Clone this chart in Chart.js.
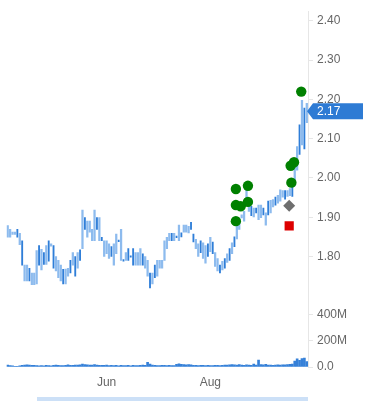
<!DOCTYPE html>
<html>
<head>
<meta charset="utf-8">
<script src="https://cdn.jsdelivr.net/npm/chart.js@4.4.0/dist/chart.umd.min.js"></script>
<style>
  body { margin: 0; background: #fff; }
</style>
</head>
<body>
<canvas id="stockChart" width="370" height="401"></canvas>
<script>
  // daily bars, high/low per session
  const lows = [1.849,1.849,1.856,1.856,1.849,1.830,1.778,1.738,1.738,1.738,
    1.728,1.728,1.730,1.778,1.766,1.780,1.780,1.788,1.826,1.770,
    1.763,1.746,1.738,1.730,1.730,1.750,1.758,1.778,1.750,1.770,
    1.790,1.820,1.869,1.849,1.862,1.840,1.840,1.869,1.840,1.840,
    1.800,1.807,1.795,1.800,1.778,1.807,1.838,1.790,1.788,1.790,
    1.790,1.798,1.778,1.778,1.778,1.778,1.778,1.770,1.750,1.720,
    1.730,1.746,1.750,1.770,1.770,1.790,1.820,1.840,1.840,1.840,
    1.848,1.840,1.850,1.862,1.862,1.860,1.869,1.837,1.820,1.800,
    1.810,1.795,1.783,1.800,1.812,1.807,1.775,1.763,1.758,1.766,
    1.770,1.785,1.790,1.807,1.825,1.845,1.869,1.898,1.890,1.930,
    1.915,1.904,1.901,1.911,1.894,1.899,1.906,1.880,1.906,1.911,
    1.926,1.931,1.936,1.941,1.951,1.946,1.953,1.955,1.953,1.980,
    2.020,2.060,2.084,2.074,2.141];
  const highs = [1.879,1.869,1.862,1.862,1.869,1.859,1.840,1.778,1.778,1.770,
    1.758,1.758,1.815,1.828,1.818,1.810,1.828,1.840,1.832,1.828,
    1.800,1.790,1.778,1.767,1.768,1.770,1.790,1.810,1.800,1.810,
    1.817,1.918,1.899,1.890,1.890,1.869,1.918,1.899,1.899,1.849,
    1.840,1.840,1.832,1.825,1.832,1.857,1.842,1.869,1.792,1.810,
    1.820,1.802,1.820,1.810,1.810,1.820,1.807,1.800,1.790,1.758,
    1.758,1.778,1.790,1.790,1.790,1.840,1.849,1.859,1.859,1.859,
    1.852,1.880,1.860,1.880,1.880,1.877,1.887,1.857,1.844,1.832,
    1.840,1.835,1.828,1.832,1.849,1.837,1.810,1.795,1.778,1.788,
    1.795,1.807,1.820,1.835,1.850,1.878,1.895,1.906,1.915,1.970,
    1.930,1.928,1.923,1.923,1.931,1.931,1.923,1.911,1.941,1.943,
    1.945,1.951,1.956,1.970,1.968,1.968,1.968,1.973,1.978,2.035,
    2.080,2.135,2.198,2.178,2.190];
  // 1 = darker bar
  const darkBars = [0,0,0,0,1,0,1,0,0,1, 0,0,0,1,0,1,0,1,0,1,
    0,0,0,1,0,0,1,0,1,0, 1,0,1,0,0,0,0,1,0,1,
    0,0,0,1,0,0,1,0,1,0, 1,1,1,0,0,0,1,0,0,1,
    0,1,0,0,0,0,0,0,1,0, 1,0,1,0,0,0,1,1,0,0,
    1,0,0,1,0,1,0,0,1,0, 1,0,1,0,1,0,0,0,0,0,
    0,1,0,1,0,0,1,0,1,0, 0,1,0,0,0,1,0,0,1,0,
    0,1,0,1,0];
  // volume in millions
  const volumes = [14,10,8,6,5,9,12,14,16,15, 13,12,10,9,11,8,12,10,9,13,
    14,12,11,10,12,16,13,12,15,14, 16,22,18,16,14,15,18,14,12,13,
    12,14,11,12,10,13,9,12,11,10, 12,9,13,11,10,12,14,12,36,22,
    14,12,11,10,13,12,11,12,10,11, 20,24,21,18,17,19,16,13,12,11,
    12,13,11,12,10,11,12,13,10,12, 14,15,17,18,16,15,19,14,12,16,
    14,12,22,15,52,18,16,20,14,15, 13,14,16,15,17,16,18,20,22,45,
    62,50,65,68,42];
  const lastClose = 2.17;

  // event flags (bar index, price)
  const greenEvents = [[94.6,1.972],[99.6,1.980],[94.6,1.931],[96.6,1.928],[99.6,1.939],
    [94.6,1.890],[117.6,1.988],[117.3,2.031],[118.7,2.040],[121.7,2.220]];
  const grayEvents = [[116.7,1.929]];
  const redEvents = [[116.7,1.878]];

  const monthLabels = ['Jun', 'Aug'];
  const monthIdx = [41, 84];
  const priceTicks = [1.8, 1.9, 2.0, 2.1, 2.2, 2.3, 2.4];
  const volumeTicks = [0, 200, 400];

  const lightData = [], darkData = [];
  highs.forEach((h, i) => {
    const pt = { x: i, y: [lows[i], h] };
    (darkBars[i] ? darkData : lightData).push(pt);
  });
  const volData = volumes.map((v, i) => ({ x: i, y: v }));
  const toPts = arr => arr.map(p => ({ x: p[0], y: p[1] }));

  const lastPriceLabel = {
    id: 'lastPriceLabel',
    afterDraw(chart) {
      const ctx = chart.ctx;
      const y = chart.scales.y.getPixelForValue(lastClose);
      const x0 = chart.chartArea.right - 1;
      ctx.save();
      ctx.fillStyle = '#2e7bd4';
      ctx.beginPath();
      ctx.moveTo(x0, y);
      ctx.lineTo(x0 + 6, y - 8);
      ctx.lineTo(363, y - 8);
      ctx.lineTo(363, y + 8);
      ctx.lineTo(x0 + 6, y + 8);
      ctx.closePath();
      ctx.fill();
      ctx.fillStyle = '#ffffff';
      ctx.font = '12px "Liberation Sans", Arial, sans-serif';
      ctx.textBaseline = 'middle';
      ctx.fillText(lastClose.toFixed(2), x0 + 10, y + 0.5);
      // navigator scrollbar strip
      ctx.fillStyle = '#cce0f7';
      ctx.fillRect(37, 397, chart.chartArea.right - 37, 4);
      ctx.restore();
    }
  };

  const labelFont = { family: '"Liberation Sans", Arial, sans-serif', size: 12 };

  new Chart(document.getElementById('stockChart'), {
    type: 'bar',
    data: {
      datasets: [
        { type: 'scatter', data: toPts(greenEvents), yAxisID: 'y', order: 0,
          pointStyle: 'circle', pointRadius: 5.2, backgroundColor: '#008000', borderWidth: 0 },
        { type: 'scatter', data: toPts(grayEvents), yAxisID: 'y', order: 0,
          pointStyle: 'rectRot', pointRadius: 6, backgroundColor: '#6e6e6e', borderWidth: 0 },
        { type: 'scatter', data: toPts(redEvents), yAxisID: 'y', order: 0,
          pointStyle: 'rect', pointRadius: 6.5, backgroundColor: '#dd0000', borderWidth: 0 },
        { data: lightData, yAxisID: 'y', order: 1, grouped: false,
          barThickness: 1.6, backgroundColor: '#8dbbee' },
        { data: darkData, yAxisID: 'y', order: 1, grouped: false,
          barThickness: 1.2, backgroundColor: '#2f7ed8' },
        { data: volData, yAxisID: 'yv', order: 1, grouped: false,
          barThickness: 2, backgroundColor: '#3580d8' }
      ]
    },
    options: {
      responsive: false,
      animation: false,
      layout: { padding: 0 },
      plugins: { legend: { display: false }, tooltip: { enabled: false } },
      scales: {
        x: {
          type: 'linear',
          offset: false,
          min: -0.5,
          max: 124.5,
          grid: { display: false, drawTicks: false, offset: false },
          border: { display: false },
          afterFit(scale) { scale.height = 34; },
          afterBuildTicks(scale) { scale.ticks = monthIdx.map(v => ({ value: v })); },
          ticks: {
            padding: 8,
            color: '#666666',
            font: labelFont,
            maxRotation: 0,
            callback: (v) => monthLabels[monthIdx.indexOf(v)]
          }
        },
        y: {
          position: 'right',
          stack: 'panes',
          stackWeight: 297,
          min: 1.6914,
          max: 2.4247,
          grid: { drawOnChartArea: false, drawTicks: true, tickLength: 5, color: '#e6e6e6' },
          border: { color: '#e6e6e6' },
          afterFit(scale) { scale.width = 62; },
          afterBuildTicks(scale) { scale.ticks = priceTicks.map(v => ({ value: v })); },
          ticks: { padding: 4, color: '#666666', font: labelFont, callback: v => v.toFixed(2) }
        },
        yv: {
          position: 'right',
          stack: 'panes',
          stackWeight: 70,
          min: 0,
          max: 518,
          grid: { drawOnChartArea: false, drawTicks: true, tickLength: 5, color: '#e6e6e6' },
          border: { color: '#e6e6e6' },
          afterFit(scale) { scale.width = 62; },
          afterBuildTicks(scale) { scale.ticks = volumeTicks.map(v => ({ value: v })); },
          ticks: { padding: 4, color: '#666666', font: labelFont, callback: v => v === 0 ? '0.0' : v + 'M' }
        }
      }
    },
    plugins: [lastPriceLabel]
  });
</script>
</body>
</html>
